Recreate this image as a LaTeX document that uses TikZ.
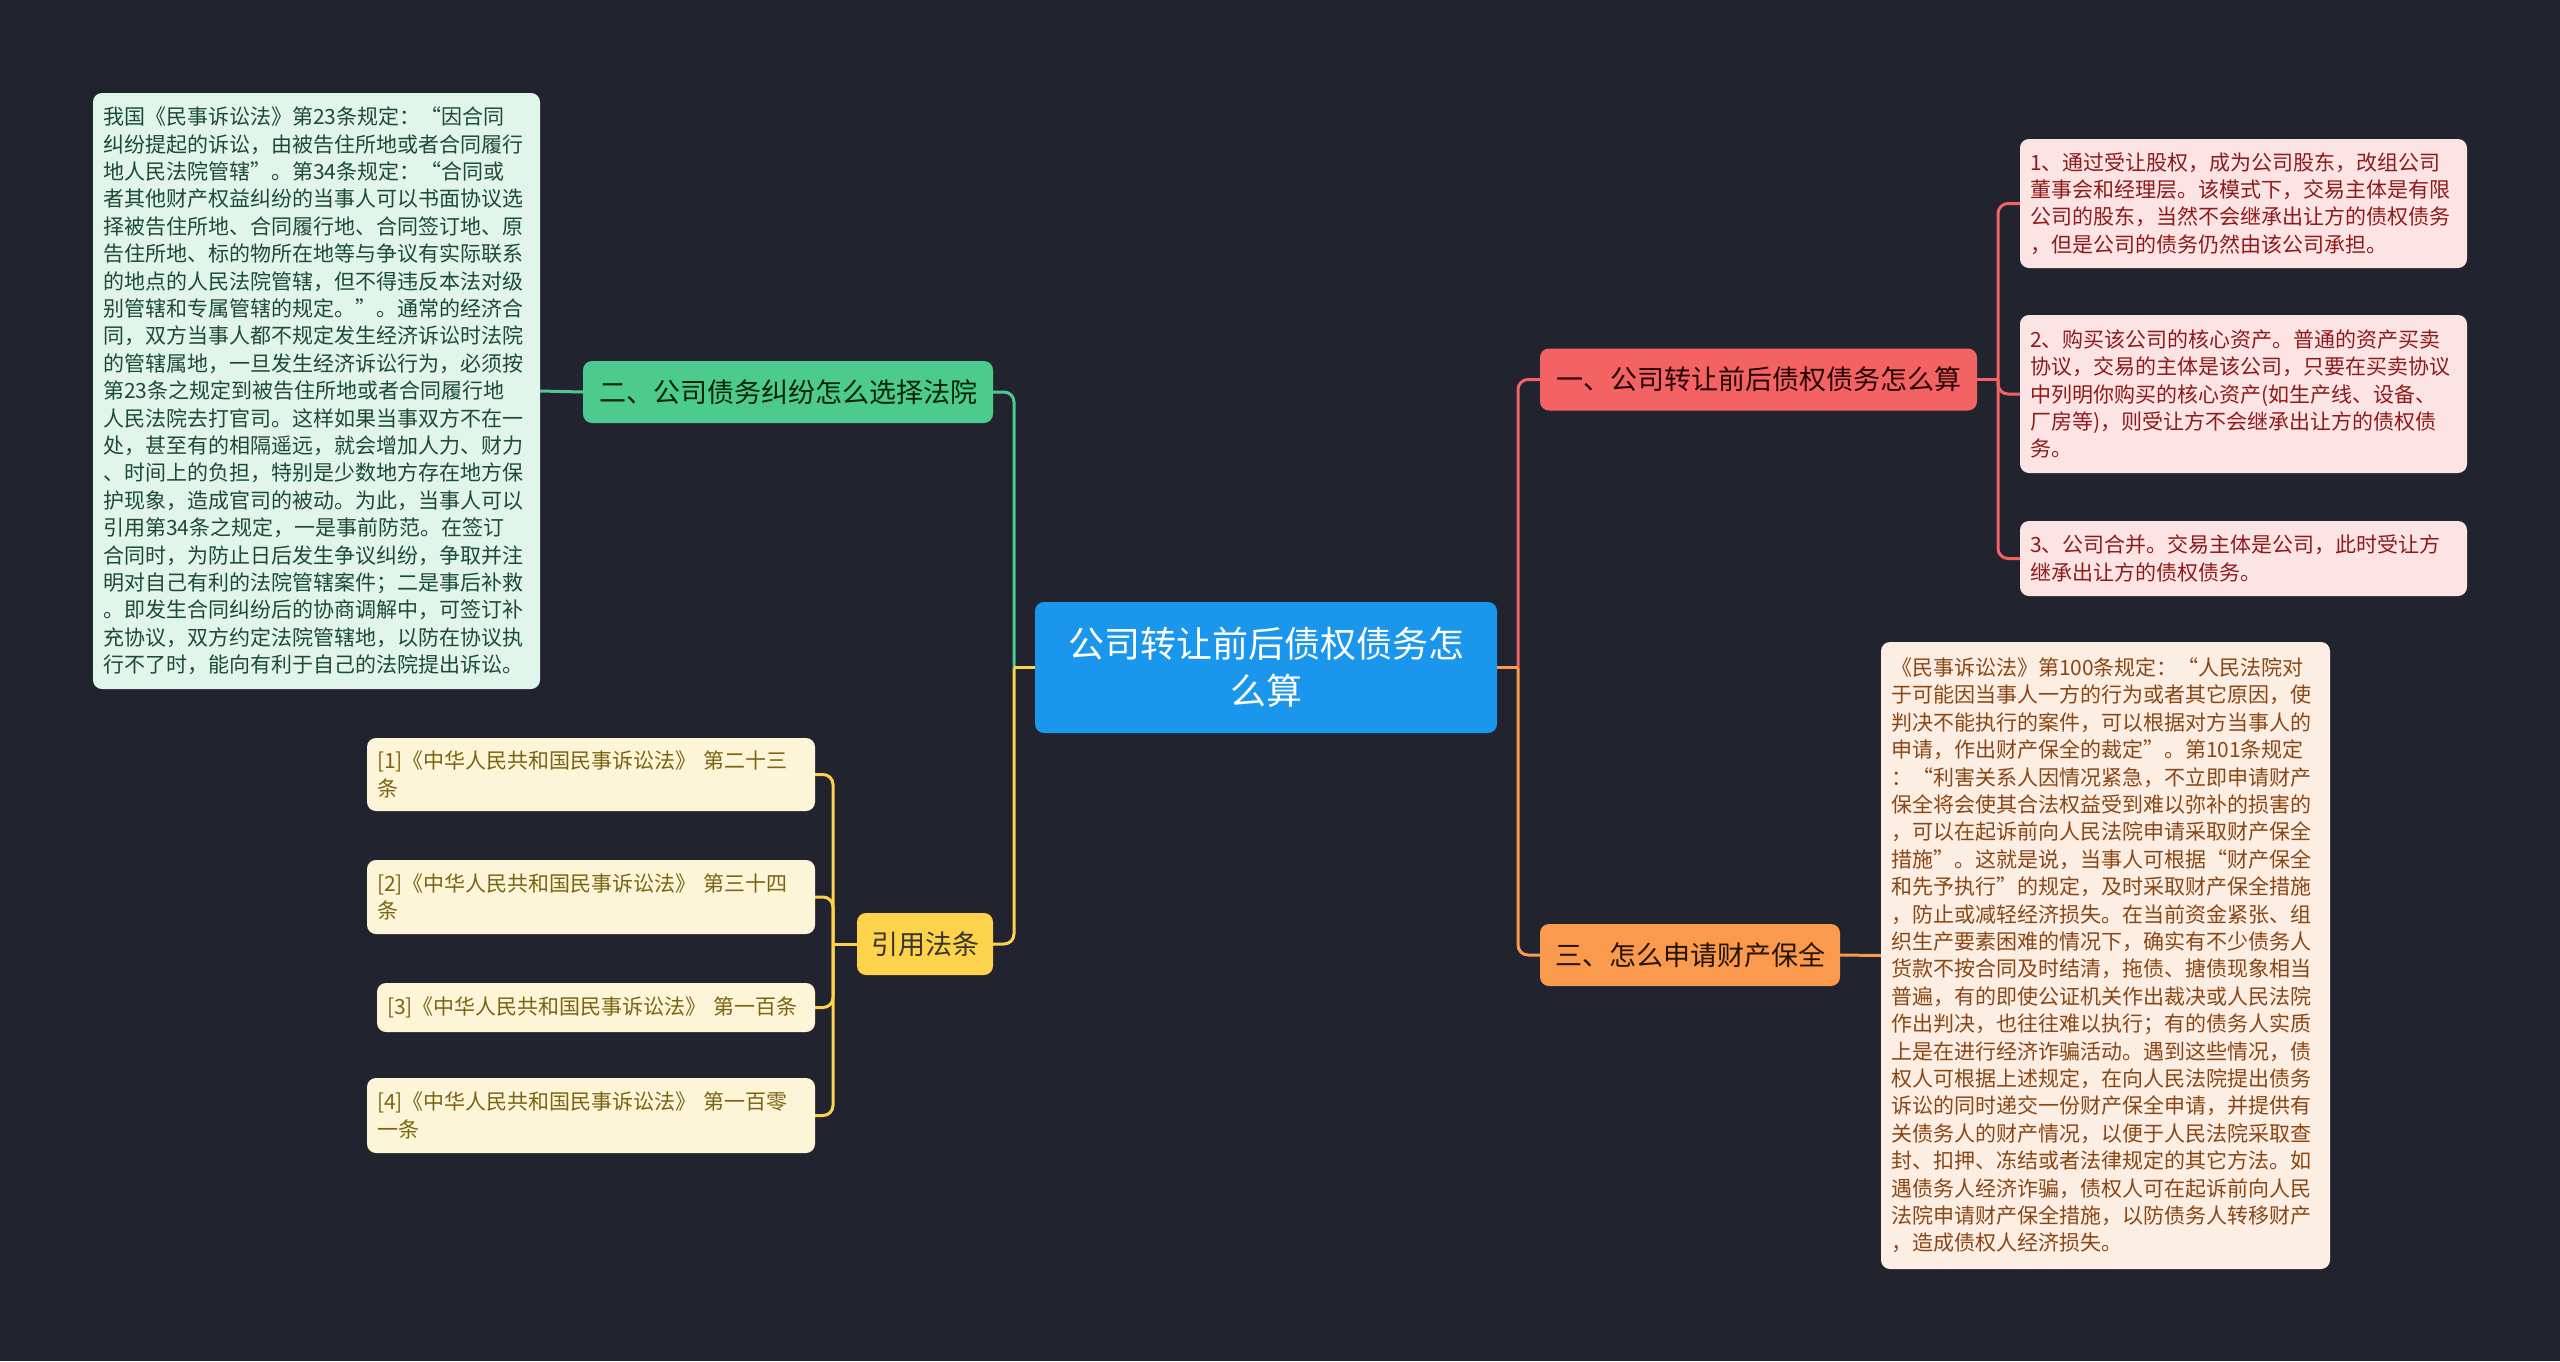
\documentclass[tikz,border=0pt]{standalone}
\usepackage{fontspec}
\setmainfont{Noto Sans CJK SC}
\usepackage{xcolor}
\usepackage{tikz}
\usetikzlibrary{positioning}

\definecolor{bgdark}{HTML}{21242F}
\definecolor{rootblue}{HTML}{1A96EC}
\definecolor{topicred}{HTML}{F46363}
\definecolor{topicgreen}{HTML}{4DCA8D}
\definecolor{topicorange}{HTML}{F99A4E}
\definecolor{topicyellow}{HTML}{FDD34C}
\definecolor{leafpink}{HTML}{FDE4E4}
\definecolor{leafpeach}{HTML}{FDEEE3}
\definecolor{leafmint}{HTML}{E1F5EC}
\definecolor{leafcream}{HTML}{FDF5D8}
\definecolor{inkred}{HTML}{8E1B1B}
\definecolor{inkbrown}{HTML}{8A4716}
\definecolor{inkgreen}{HTML}{1D4B34}
\definecolor{inkolive}{HTML}{7A6413}

\begin{document}
\begin{tikzpicture}[
    x=1pt, y=-1pt,
    box/.style={rounded corners=9pt, inner ysep=0pt},
    rootnode/.style={box, fill=rootblue, text=white, align=center,
        text width=440pt, inner xsep=11pt, minimum height=131pt,
        font=\fontsize{36}{47}\selectfont},
    topic/.style={box, align=center, inner xsep=12pt, minimum height=62pt,
        font=\fontsize{27}{34}\selectfont},
    leaf/.style={box, align=left, inner xsep=10pt,
        font=\fontsize{21}{27.4}\selectfont},
    redleaf/.style={leaf, fill=leafpink, text=inkred, text width=427pt},
    peachleaf/.style={leaf, fill=leafpeach, text=inkbrown, text width=429pt},
    mintleaf/.style={leaf, fill=leafmint, text=inkgreen, text width=427pt},
    refleaf/.style={leaf, fill=leafcream, text=inkolive, text width=428pt},
    wire/.style={line width=3pt, rounded corners=10pt},
    redwire/.style={wire, topicred},
    greenwire/.style={wire, topicgreen},
    orangewire/.style={wire, topicorange},
    yellowwire/.style={wire, topicyellow},
]
\fill[bgdark] (0,0) rectangle (2560,1361);
\useasboundingbox (0,0) rectangle (2560,1361);

% centre
\node[rootnode] (root) at (1266,667.5) {公司转让前后债权债务怎\\么算};

% first level
\node[topic, fill=topicred, text=black!85!red, minimum width=437pt] (one) at (1758.5,379.5)
    {一、公司转让前后债权债务怎么算};
\node[topic, fill=topicorange, text=black!85!orange, minimum width=300pt] (three) at (1690,955)
    {三、怎么申请财产保全};
\node[topic, fill=topicgreen, text=black!85!green, minimum width=410pt] (two) at (788,392)
    {二、公司债务纠纷怎么选择法院};
\node[topic, fill=topicyellow, text=black!90!yellow, minimum width=136pt] (cite) at (925,944)
    {引用法条};

% leaves of one
\node[redleaf, minimum height=129pt] (oneA) at (2243.5,203.5)
    {1、通过受让股权，成为公司股东，改组公司\\
     董事会和经理层。该模式下，交易主体是有限\\
     公司的股东，当然不会继承出让方的债权债务\\
     ，但是公司的债务仍然由该公司承担。};
\node[redleaf, minimum height=158pt] (oneB) at (2243.5,394)
    {2、购买该公司的核心资产。普通的资产买卖\\
     协议，交易的主体是该公司，只要在买卖协议\\
     中列明你购买的核心资产(如生产线、设备、\\
     厂房等)，则受让方不会继承出让方的债权债\\
     务。};
\node[redleaf, minimum height=75pt] (oneC) at (2243.5,558.5)
    {3、公司合并。交易主体是公司，此时受让方\\
     继承出让方的债权债务。};

% leaf of three
\node[peachleaf, minimum height=627pt] (threeA) at (2105.5,955.5)
    {《民事诉讼法》第100条规定：“人民法院对\\
     于可能因当事人一方的行为或者其它原因，使\\
     判决不能执行的案件，可以根据对方当事人的\\
     申请，作出财产保全的裁定”。第101条规定\\
     ：“利害关系人因情况紧急，不立即申请财产\\
     保全将会使其合法权益受到难以弥补的损害的\\
     ，可以在起诉前向人民法院申请采取财产保全\\
     措施”。这就是说，当事人可根据“财产保全\\
     和先予执行”的规定，及时采取财产保全措施\\
     ，防止或减轻经济损失。在当前资金紧张、组\\
     织生产要素困难的情况下，确实有不少债务人\\
     货款不按合同及时结清，拖债、搪债现象相当\\
     普遍，有的即使公证机关作出裁决或人民法院\\
     作出判决，也往往难以执行；有的债务人实质\\
     上是在进行经济诈骗活动。遇到这些情况，债\\
     权人可根据上述规定，在向人民法院提出债务\\
     诉讼的同时递交一份财产保全申请，并提供有\\
     关债务人的财产情况，以便于人民法院采取查\\
     封、扣押、冻结或者法律规定的其它方法。如\\
     遇债务人经济诈骗，债权人可在起诉前向人民\\
     法院申请财产保全措施，以防债务人转移财产\\
     ，造成债权人经济损失。};

% leaf of two
\node[mintleaf, minimum height=596pt] (twoA) at (316.5,391)
    {我国《民事诉讼法》第23条规定：“因合同\\
     纠纷提起的诉讼，由被告住所地或者合同履行\\
     地人民法院管辖”。第34条规定：“合同或\\
     者其他财产权益纠纷的当事人可以书面协议选\\
     择被告住所地、合同履行地、合同签订地、原\\
     告住所地、标的物所在地等与争议有实际联系\\
     的地点的人民法院管辖，但不得违反本法对级\\
     别管辖和专属管辖的规定。”。通常的经济合\\
     同，双方当事人都不规定发生经济诉讼时法院\\
     的管辖属地，一旦发生经济诉讼行为，必须按\\
     第23条之规定到被告住所地或者合同履行地\\
     人民法院去打官司。这样如果当事双方不在一\\
     处，甚至有的相隔遥远，就会增加人力、财力\\
     、时间上的负担，特别是少数地方存在地方保\\
     护现象，造成官司的被动。为此，当事人可以\\
     引用第34条之规定，一是事前防范。在签订\\
     合同时，为防止日后发生争议纠纷，争取并注\\
     明对自己有利的法院管辖案件；二是事后补救\\
     。即发生合同纠纷后的协商调解中，可签订补\\
     充协议，双方约定法院管辖地，以防在协议执\\
     行不了时，能向有利于自己的法院提出诉讼。};

% cited articles
\node[refleaf, minimum height=73pt] (refA) at (591,774.5)
    {[1]《中华人民共和国民事诉讼法》 第二十三\\条};
\node[refleaf, minimum height=74pt] (refB) at (591,897)
    {[2]《中华人民共和国民事诉讼法》 第三十四\\条};
\node[refleaf, text width=418pt, minimum height=49pt] (refC) at (596,1007.5)
    {[3]《中华人民共和国民事诉讼法》 第一百条};
\node[refleaf, minimum height=75pt] (refD) at (591,1115.5)
    {[4]《中华人民共和国民事诉讼法》 第一百零\\一条};

% junctions
\coordinate (jleft) at (1014,667.5);
\coordinate (jright) at (1518,667.5);
\coordinate (jone) at (1998,379.5);
\coordinate (jcite) at (833,944);

% connectors
\draw[greenwire] (jleft) |- (two.east);
\draw[yellowwire] (root.west) -- (jleft);
\draw[yellowwire] (jleft) |- (cite.east);
\draw[redwire] (jright) |- (one.west);
\draw[orangewire] (root.east) -- (jright);
\draw[orangewire] (jright) |- (three.west);

\draw[redwire] (one.east) -- (jone);
\draw[redwire] (jone) |- (oneA.west);
\draw[redwire] (jone) |- (oneB.west);
\draw[redwire] (jone) |- (oneC.west);
\draw[orangewire] (three.east) -- (threeA.west);
\draw[greenwire] (two.west) -- (twoA.east);

\draw[yellowwire] (cite.west) -- (jcite);
\draw[yellowwire] (jcite) |- (refA.east);
\draw[yellowwire] (jcite) |- (refB.east);
\draw[yellowwire] (jcite) |- (refC.east);
\draw[yellowwire] (jcite) |- (refD.east);
\end{tikzpicture}
\end{document}
